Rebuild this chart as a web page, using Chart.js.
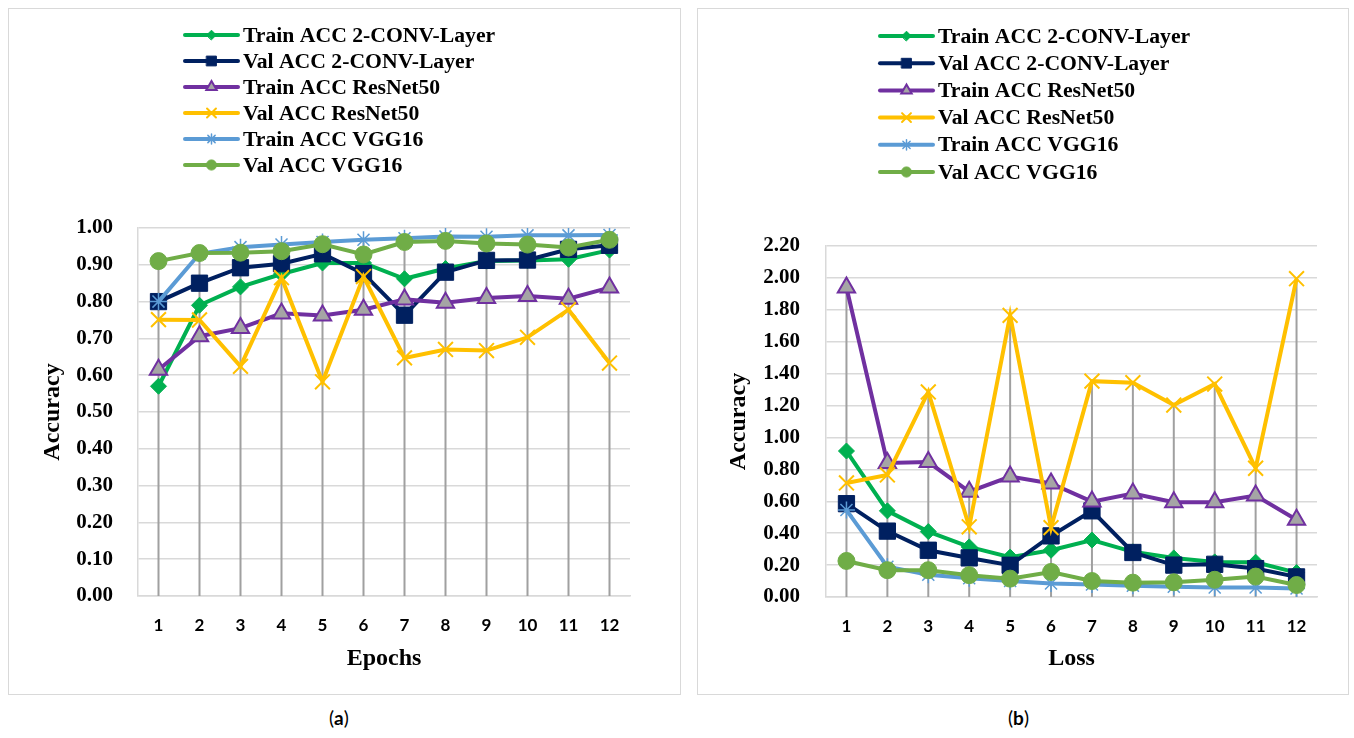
<!DOCTYPE html>
<html>
<head>
<meta charset="utf-8">
<script src="https://cdn.jsdelivr.net/npm/chart.js@4"></script>
<style>
  body { margin: 0; background: #fff; width: 1354px; height: 738px; position: relative; overflow: hidden; }
  .box { position: absolute; top: 8px; height: 687px; border: 1px solid #d9d9d9; box-sizing: border-box; }
  .box canvas { display: block; }
  .cap { position: absolute; top: 706px; font: 19px Lato, sans-serif; color: #000; }
</style>
</head>
<body>
<div class="box" style="left:8px;width:673px;"><canvas id="accChart" width="671" height="685"></canvas></div>
<div class="box" style="left:697px;width:652px;"><canvas id="lossChart" width="650" height="685"></canvas></div>
<div class="cap" style="left:329px;">(<b>a</b>)</div>
<div class="cap" style="left:1008px;">(<b>b</b>)</div>
<script>
        // Data
        const epochs = ['1', '2', '3', '4', '5', '6', '7', '8', '9', '10', '11', '12'];
        const seriesNames = [
            'Train ACC 2-CONV-Layer',
            'Val ACC 2-CONV-Layer',
            'Train ACC ResNet50',
            'Val ACC ResNet50',
            'Train ACC VGG16',
            'Val ACC VGG16'
        ];

        // (a) accuracy per epoch
        const trainCnnAcc = [0.57, 0.79, 0.84, 0.875, 0.905, 0.905, 0.862, 0.89, 0.91, 0.912, 0.915, 0.94];
        const valCnnAcc   = [0.80, 0.85, 0.892, 0.903, 0.93, 0.876, 0.763, 0.88, 0.912, 0.913, 0.942, 0.953];
        const trainResAcc = [0.615, 0.706, 0.728, 0.768, 0.762, 0.778, 0.806, 0.797, 0.81, 0.815, 0.808, 0.838];
        const valResAcc   = [0.751, 0.750, 0.624, 0.865, 0.582, 0.868, 0.647, 0.670, 0.667, 0.703, 0.778, 0.633];
        const trainVggAcc = [0.80, 0.93, 0.948, 0.955, 0.962, 0.968, 0.972, 0.977, 0.976, 0.98, 0.98, 0.981];
        const valVggAcc   = [0.91, 0.932, 0.933, 0.937, 0.956, 0.928, 0.962, 0.965, 0.958, 0.955, 0.947, 0.968];

        // (b) loss per epoch
        const trainCnnLoss = [0.915, 0.54, 0.41, 0.314, 0.25, 0.293, 0.357, 0.283, 0.245, 0.22, 0.218, 0.153];
        const valCnnLoss   = [0.585, 0.413, 0.293, 0.245, 0.199, 0.383, 0.54, 0.279, 0.2, 0.205, 0.178, 0.126];
        const trainResLoss = [1.94, 0.84, 0.846, 0.66, 0.755, 0.712, 0.598, 0.649, 0.594, 0.594, 0.636, 0.484];
        const valResLoss   = [0.715, 0.765, 1.285, 0.44, 1.765, 0.435, 1.353, 1.343, 1.203, 1.335, 0.807, 1.995];
        const trainVggLoss = [0.545, 0.19, 0.14, 0.118, 0.1, 0.085, 0.078, 0.07, 0.064, 0.06, 0.06, 0.053];
        const valVggLoss   = [0.226, 0.168, 0.168, 0.137, 0.115, 0.157, 0.1, 0.09, 0.092, 0.108, 0.128, 0.075];

        // Series looks (Excel palette)
        const looks = [
            { color: '#00B050', fill: '#00B050', style: 'rectRot', r: 8, bw: 1 },
            { color: '#002060', fill: '#002060', style: 'rect', r: 11.5, bw: 1 },
            { color: '#7030A0', fill: '#A5A5A5', style: 'triangle', r: 10, bw: 2 },
            { color: '#FFC000', fill: '#FFC000', style: 'crossRot', r: 10.5, bw: 2 },
            { color: '#5B9BD5', fill: '#5B9BD5', style: 'star', r: 8.5, bw: 1.5 },
            { color: '#70AD47', fill: '#70AD47', style: 'circle', r: 8.5, bw: 1 }
        ];

        const serif = '"Liberation Serif", "Times New Roman", serif';

        // Excel-style drop lines: from highest point of each category to the axis
        const dropLines = {
            id: 'dropLines',
            beforeDatasetsDraw(chart) {
                const { ctx, chartArea, scales } = chart;
                const sets = chart.data.datasets;
                ctx.save();
                ctx.strokeStyle = '#A0A0A0';
                ctx.lineWidth = 2;
                chart.data.labels.forEach((lab, i) => {
                    const top = Math.max(...sets.map(d => d.data[i]));
                    const x = scales.x.getPixelForValue(i);
                    ctx.beginPath();
                    ctx.moveTo(x, scales.y.getPixelForValue(top));
                    ctx.lineTo(x, chartArea.bottom);
                    ctx.stroke();
                });
                ctx.restore();
            }
        };

        // Vertical legend drawn like the Excel one
        const stackLegend = {
            id: 'stackLegend',
            afterDraw(chart, args, opts) {
                const ctx = chart.ctx;
                ctx.save();
                ctx.font = 'bold 21.7px ' + serif;
                ctx.textBaseline = 'middle';
                chart.data.datasets.forEach((ds, i) => {
                    const lk = looks[i];
                    const y = opts.y + i * opts.dy;
                    ctx.strokeStyle = lk.color;
                    ctx.lineWidth = 4;
                    ctx.lineCap = 'round';
                    ctx.beginPath();
                    ctx.moveTo(opts.x, y);
                    ctx.lineTo(opts.x + 53, y);
                    ctx.stroke();
                    ctx.fillStyle = lk.fill;
                    ctx.lineWidth = lk.bw;
                    if (Chart.helpers && Chart.helpers.drawPoint) {
                        Chart.helpers.drawPoint(ctx, { pointStyle: lk.style, radius: lk.r * 0.6, borderWidth: lk.bw, rotation: 0 }, opts.x + 26.5, y);
                    }
                    ctx.fillStyle = '#000';
                    ctx.fillText(ds.label, opts.x + 58, y + 1);
                });
                ctx.restore();
            }
        };

        function buildSets(values) {
            return values.map((vals, i) => ({
                label: seriesNames[i],
                data: vals,
                borderColor: looks[i].color,
                backgroundColor: looks[i].fill,
                borderWidth: 4,
                pointStyle: looks[i].style,
                pointRadius: looks[i].r,
                pointBorderColor: looks[i].color,
                pointBackgroundColor: looks[i].fill,
                pointBorderWidth: looks[i].bw,
                tension: 0,
                order: values.length - i
            }));
        }

        function renderChart(id, values, cfg) {
            const ctx = document.getElementById(id).getContext('2d');
            new Chart(ctx, {
                type: 'line',
                data: { labels: epochs, datasets: buildSets(values) },
                plugins: [dropLines, stackLegend],
                options: {
                    responsive: false,
                    animation: false,
                    events: [],
                    layout: { padding: { top: cfg.top, right: cfg.right, left: 0, bottom: 0 } },
                    scales: {
                        x: {
                            offset: true,
                            grid: { display: false },
                            border: { display: true, color: '#D9D9D9', width: 1.5 },
                            ticks: { color: '#000', padding: 11, font: { family: 'Lato', weight: 'bold', size: 17 } },
                            title: { display: true, text: cfg.xTitle, color: '#000', padding: { top: 0, bottom: 21 }, font: { family: serif, weight: 'bold', size: 24 } },
                            afterFit: s => { s.height = cfg.xHeight; }
                        },
                        y: {
                            min: 0,
                            max: cfg.max,
                            grid: { color: '#D9D9D9', lineWidth: 1.5, drawTicks: false },
                            border: { display: true, color: '#D9D9D9', width: 1.5 },
                            ticks: {
                                stepSize: cfg.step,
                                color: '#000',
                                padding: cfg.tickPad,
                                font: { family: serif, weight: 'bold', size: 21 },
                                callback: v => v.toFixed(2)
                            },
                            title: { display: true, text: 'Accuracy', color: '#000', padding: { top: cfg.titlePad, bottom: 0 }, font: { family: serif, weight: 'bold', size: 24 } },
                            afterFit: s => { s.width = cfg.yWidth; }
                        }
                    },
                    plugins: {
                        legend: { display: false },
                        tooltip: { enabled: false },
                        stackLegend: cfg.legend
                    }
                }
            });
        }

        renderChart('accChart',
            [trainCnnAcc, valCnnAcc, trainResAcc, valResAcc, trainVggAcc, valVggAcc],
            { max: 1, step: 0.1, top: 219, right: 50, yWidth: 129, xHeight: 98, tickPad: 25, titlePad: 29,
              xTitle: 'Epochs', legend: { x: 176, y: 26, dy: 26 } });

        renderChart('lossChart',
            [trainCnnLoss, valCnnLoss, trainResLoss, valResLoss, trainVggLoss, valVggLoss],
            { max: 2.2, step: 0.2, top: 237, right: 31, yWidth: 128, xHeight: 97, tickPad: 26, titlePad: 26,
              xTitle: 'Loss', legend: { x: 182, y: 27, dy: 27.2 } });
    </script>
</body>
</html>
